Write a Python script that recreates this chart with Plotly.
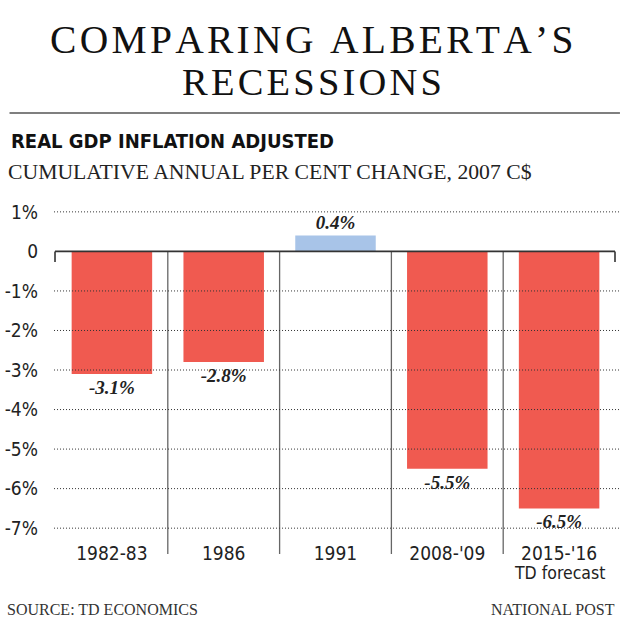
import plotly.graph_objects as go

categories = ["1982-83", "1986", "1991", "2008-'09", "2015-'16"]
values = [-3.1, -2.8, 0.4, -5.5, -6.5]
value_labels = ["-3.1%", "-2.8%", "0.4%", "-5.5%", "-6.5%"]
y_tickvals = [1, 0, -1, -2, -3, -4, -5, -6, -7]
y_ticktext = ["1%", "0", "-1%", "-2%", "-3%", "-4%", "-5%", "-6%", "-7%"]
forecast_note = "TD forecast"

RED = "#F05A50"
BLUE = "#A8C4E8"
COND = "DejaVu Sans Condensed, Roboto, sans-serif"
SERIF = "Liberation Serif, serif"

W, H = 620, 635
ML, MR, MT, MB = 50, 5, 200, 93
YMIN, YMAX = -7.35, 1.3
PH = H - MT - MB
PB = H - MB


def py(pix):
    return (PB - pix) / PH


def px(pix):
    return (pix - ML) / (W - ML - MR)


zero_paper = (0 - YMIN) / (YMAX - YMIN)

colors = [BLUE if v > 0 else RED for v in values]

fig = go.Figure(go.Bar(
    x=categories, y=values, marker=dict(color=colors, line=dict(width=0)),
    width=0.72, text=value_labels, textposition="outside", cliponaxis=False,
    textfont=dict(family=SERIF, size=19, style="italic", weight="bold", color="#222"),
    hoverinfo="skip",
))

shapes = []
for v in y_tickvals:
    if v == 0:
        continue
    shapes.append(dict(type="line", xref="paper", yref="y", x0=px(48), x1=px(620), y0=v, y1=v,
                       line=dict(color="#333", width=1, dash="1px,2px"), layer="above"))
for i in range(len(categories) - 1):
    shapes.append(dict(type="line", xref="x", yref="paper", x0=i + 0.5, x1=i + 0.5,
                       y0=zero_paper, y1=py(554), line=dict(color="#666", width=1.3), layer="below"))
# zero baseline with end ticks
shapes.append(dict(type="line", xref="paper", yref="y", x0=px(49), x1=px(615), y0=0, y1=0,
                   line=dict(color="#333", width=1.6), layer="above"))
for xx in (49, 615):
    shapes.append(dict(type="line", xref="paper", yref="paper", x0=px(xx), x1=px(xx),
                       y0=zero_paper, y1=py(262), line=dict(color="#333", width=1.6), layer="above"))
# header rule
shapes.append(dict(type="line", xref="paper", yref="paper", x0=px(3), x1=px(620),
                   y0=py(113), y1=py(113), line=dict(color="#555", width=1.5)))

hs = "\u200a"


def spaced(s):
    return hs.join(list(s))


annotations = [
    dict(text=spaced("COMPARING ALBERTA\u2019S"), x=px(309), y=py(40), xref="paper", yref="paper",
         showarrow=False, xanchor="center", yanchor="middle", font=dict(family=SERIF, size=39.5, color="#111")),
    dict(text=spaced("RECESSIONS"), x=px(309), y=py(82), xref="paper", yref="paper",
         showarrow=False, xanchor="center", yanchor="middle", font=dict(family=SERIF, size=38.5, color="#111")),
    dict(text="<b>REAL GDP INFLATION ADJUSTED</b>", x=px(2), y=py(141), xref="paper", yref="paper",
         showarrow=False, xanchor="left", yanchor="middle", font=dict(family=COND, size=20, color="#111")),
    dict(text="CUMULATIVE ANNUAL PER CENT CHANGE, 2007 C$", x=px(-1), y=py(172), xref="paper", yref="paper",
         showarrow=False, xanchor="left", yanchor="middle", font=dict(family=SERIF, size=21.7, color="#222")),
    dict(text="SOURCE: TD ECONOMICS", x=px(-2), y=py(609), xref="paper", yref="paper",
         showarrow=False, xanchor="left", yanchor="middle", font=dict(family=SERIF, size=16, color="#333")),
    dict(text="NATIONAL POST", x=px(617), y=py(609), xref="paper", yref="paper",
         showarrow=False, xanchor="right", yanchor="middle", font=dict(family=SERIF, size=16, color="#333")),
    dict(text=forecast_note, x=categories[4], y=py(573), xref="x", yref="paper",
         showarrow=False, xanchor="center", yanchor="middle", font=dict(family=COND, size=17.5, color="#222")),
]

fig.update_layout(
    width=W, height=H, margin=dict(l=ML, r=MR, t=MT, b=MB),
    paper_bgcolor="white", plot_bgcolor="white", showlegend=False,
    shapes=shapes, annotations=annotations, bargap=0.28,
    xaxis=dict(showgrid=False, showline=False, zeroline=False, ticks="", range=[-0.5, 4.5],
               tickfont=dict(family=COND, size=19, color="#222"), ticklabelstandoff=-2),
    yaxis=dict(range=[YMIN, YMAX], tickvals=y_tickvals, ticktext=y_ticktext, showgrid=False,
               zeroline=False, showline=False, ticks="", ticklabelstandoff=17,
               tickfont=dict(family=COND, size=19, color="#222")),
)

fig.write_html("out.html", config={"displayModeBar": False},
               post_script="document.body.style.margin='0';document.body.style.overflow='hidden';")
